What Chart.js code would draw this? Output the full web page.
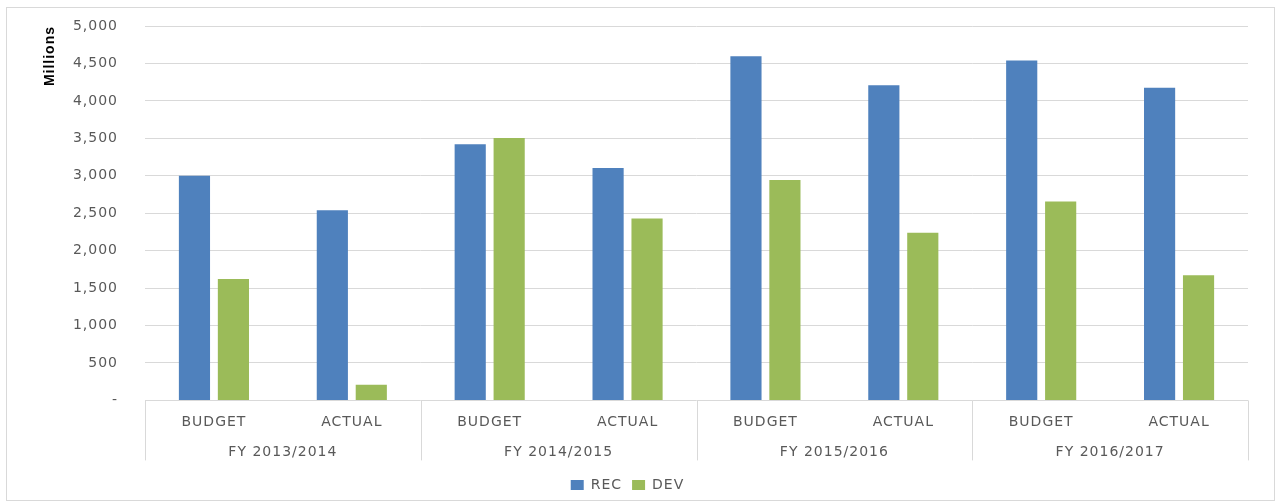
<!DOCTYPE html>
<html>
<head>
<meta charset="utf-8">
<script src="https://cdn.jsdelivr.net/npm/chart.js@4"></script>
<style>
  body { margin: 0; background: #fff; }
  #marco { position: absolute; left: 6px; top: 7px; width: 1267px; height: 492px; border: 1px solid #d9d9d9; }
  #budgetChart { position: absolute; left: 7px; top: 8px; }
</style>
</head>
<body>
<div id="marco"></div>
<canvas id="budgetChart" width="1267" height="494"></canvas>
<script>
"use strict";

// data
var grupos = ["FY 2013/2014", "FY 2014/2015", "FY 2015/2016", "FY 2016/2017"];
var fases = ["BUDGET", "ACTUAL"];
var recValues = [3000, 2540, 3420, 3105, 4595, 4210, 4540, 4175];
var devValues = [1620, 210, 3505, 2430, 2945, 2240, 2655, 1670];
var yTicks = [0, 500, 1000, 1500, 2000, 2500, 3000, 3500, 4000, 4500, 5000];

var etiquetas = [];
grupos.forEach(function (g) {
  fases.forEach(function (f) {
    etiquetas.push(f);
  });
});

var gris = "#595959";
var lineaGris = "#d9d9d9";

// letter spacing, so the text looks like the stretched original
var espaciado = {
  id: "espaciado",
  beforeLayout: function (chart) { chart.ctx.letterSpacing = "1px"; },
  beforeDraw: function (chart) { chart.ctx.letterSpacing = "1px"; }
};

// vertical separators between the year groups, under the axis
var separadores = {
  id: "separadores",
  afterDraw: function (chart) {
    var ctx = chart.ctx;
    var x = chart.scales.x;
    var x2 = chart.scales.x2;
    var area = chart.chartArea;
    var posiciones = [area.left];
    for (var i = 1; i < grupos.length; i++) {
      var idx = i * fases.length;
      posiciones.push((x.getPixelForValue(idx - 1) + x.getPixelForValue(idx)) / 2);
    }
    posiciones.push(area.right);
    ctx.save();
    ctx.strokeStyle = lineaGris;
    ctx.lineWidth = 1;
    posiciones.forEach(function (px) {
      var p = Math.round(px) + 0.5;
      ctx.beginPath();
      ctx.moveTo(p, area.bottom);
      ctx.lineTo(p, x2.top + 30);
      ctx.stroke();
    });
    ctx.restore();
  }
};

var ctx = document.getElementById("budgetChart").getContext("2d");
new Chart(ctx, {
  type: "bar",
  data: {
    labels: etiquetas,
    datasets: [
      { label: "REC", data: recValues, backgroundColor: "#4f81bd" },
      { label: "DEV", data: devValues, backgroundColor: "#9bbb59" }
    ]
  },
  options: {
    responsive: false,
    animation: false,
    categoryPercentage: 0.565,
    barPercentage: 0.8,
    layout: { padding: { left: 0, right: 26, top: 0, bottom: 0 } },
    plugins: {
      legend: {
        position: "bottom",
        labels: {
          boxWidth: 13,
          boxHeight: 10,
          padding: 10,
          color: gris,
          font: { family: "DejaVu Sans", size: 14 }
        }
      },
      tooltip: { enabled: false }
    },
    scales: {
      y: {
        min: 0,
        max: 5000,
        afterFit: function (scale) {
          scale.width = 138;
          scale.paddingTop = 18;
          scale.paddingBottom = 8;
        },
        afterBuildTicks: function (scale) {
          scale.ticks = yTicks.map(function (v) { return { value: v }; });
        },
        grid: { color: lineaGris, drawTicks: false },
        border: { display: false },
        ticks: {
          padding: 27,
          color: gris,
          font: { family: "DejaVu Sans", size: 14 },
          callback: function (v) { return v === 0 ? "-" : v.toLocaleString("en-US"); }
        },
        title: {
          display: true,
          text: "Millions",
          align: "end",
          color: "#000",
          padding: { top: 35, bottom: 0 },
          font: { family: "Liberation Sans", size: 14, weight: "bold" }
        }
      },
      x: {
        afterFit: function (scale) { scale.height = 30; },
        grid: { display: false, drawTicks: false },
        border: { display: false },
        ticks: {
          padding: 14,
          maxRotation: 0,
          autoSkip: false,
          color: gris,
          font: { family: "DejaVu Sans", size: 14 }
        }
      },
      x2: {
        type: "category",
        position: "bottom",
        labels: grupos,
        offset: true,
        afterFit: function (scale) { scale.height = 37.6; },
        grid: { display: false, drawTicks: false },
        border: { display: false },
        ticks: {
          padding: 14,
          maxRotation: 0,
          autoSkip: false,
          color: gris,
          font: { family: "DejaVu Sans", size: 14 }
        }
      }
    }
  },
  plugins: [espaciado, separadores]
});
</script>
</body>
</html>
